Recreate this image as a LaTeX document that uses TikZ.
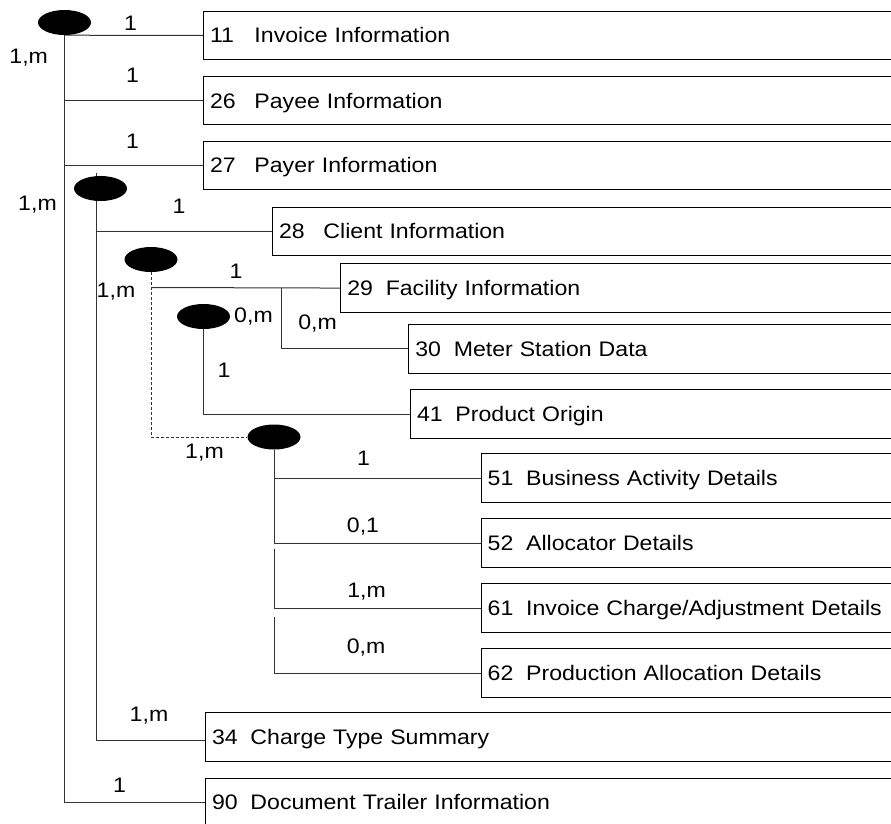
\documentclass[tikz,border=0pt]{standalone}
\usepackage{fontspec}
\setmainfont[FakeStretch=1.1]{Liberation Sans}
\usepackage{tikz}
\usetikzlibrary{shapes.geometric,backgrounds}

\newcommand{\segno}[2][38.5pt]{\makebox[#1][l]{#2}}

\begin{document}
\begin{tikzpicture}[x=1pt,y=-1pt,
    font=\fontsize{21}{25}\selectfont,
    rec/.style={draw,line width=1pt,anchor=north west,minimum height=48.5pt,
        text width=700pt,align=left,inner xsep=6.5pt,inner ysep=0pt,
        text height=15pt,text depth=0pt},
    hub/.style={ellipse,fill=black,minimum width=53pt,minimum height=25pt,inner sep=0pt},
    card/.style={inner sep=0pt,text height=15pt,text depth=0pt},
    link/.style={draw=black!80,line width=1pt},
    elbow/.style={to path={|- (\tikztotarget)}}]
    \useasboundingbox (0,0) rectangle (891,823);
    \clip (0,0) rectangle (891,823);
    %
    \node[hub]              (hInv) at (64.5,22.5)  {};
    \node[hub]              (hCli) at (100.5,188.5) {};
    \node[hub]              (hFac) at (151,259.5)  {};
    \node[hub]              (hPrd) at (203.5,316.5) {};
    \node[hub]              (hAct) at (274,437)    {};
    %
    \node[rec] (b11) at (203,10.7)   {\segno[44.5pt]{11}Invoice Information};
    \node[rec] (b26) at (203,75.8)   {\segno[44.5pt]{26}Payee Information};
    \node[rec] (b27) at (203,140.7)  {\segno[44.5pt]{27}Payer Information};
    \node[rec] (b28) at (272,206.7)  {\segno[44.5pt]{28}Client Information};
    \node[rec] (b29) at (340.3,263.3) {\segno{29}Facility Information};
    \node[rec] (b30) at (408.3,324)  {\segno{30}Meter Station Data};
    \node[rec] (b41) at (410,389.3)  {\segno{41}Product Origin};
    \node[rec] (b51) at (480.7,453.3) {\segno{51}Business Activity Details};
    \node[rec] (b52) at (480.7,518.3) {\segno{52}Allocator Details};
    \node[rec] (b61) at (480.7,583.3) {\segno{61}Invoice Charge/Adjustment Details};
    \node[rec] (b62) at (480.7,648.3) {\segno{62}Production Allocation Details};
    \node[rec] (b34) at (205,712.3)  {\segno{34}Charge Type Summary};
    \node[rec] (b90) at (205,777.7)  {\segno{90}Document Trailer Information};
    %
    \coordinate (t2)  at (96.3,173);
    \coordinate (j29) at (151,287.5);
    \coordinate (j30) at (281,287.5);
    \coordinate (g61) at (274,548.5);
    \coordinate (g62) at (274,617);
    %
    \node[card] (c11)  at (130.5,22.5)  {1};
    \node[card] (c26)  at (132.5,75)    {1};
    \node[card] (c27)  at (132.5,140.5) {1};
    \node[card] (cInv) at (28.7,56.3)   {1,m};
    \node[card] (cCli) at (37.5,203)    {1,m};
    \node[card] (c28)  at (179,206)     {1};
    \node[card] (cFac) at (116,289.5)   {1,m};
    \node[card] (c29)  at (236,270.5)   {1};
    \node[card] (cPrd) at (253.5,315)   {0,m};
    \node[card] (c30)  at (317.5,321.5) {0,m};
    \node[card] (c41)  at (224,370)     {1};
    \node[card] (cAct) at (204.5,451)   {1,m};
    \node[card] (c51)  at (363.5,458)   {1};
    \node[card] (c52)  at (363,524.5)   {0,1};
    \node[card] (c61)  at (366.5,589.5) {1,m};
    \node[card] (c62)  at (366,645.5)   {0,m};
    \node[card] (c34)  at (149,713.5)   {1,m};
    \node[card] (c90)  at (119.5,785)   {1};
    %
    \begin{scope}[on background layer]
    \path[link]
        (hInv.south) edge                (b11.west)
        (hInv.south) edge[elbow]         (b26.west)
        (hInv.south) edge[elbow]         (b27.west)
        (hInv.south) edge[elbow]         (b90.west)
        (t2)         edge[elbow]         (b28.west)
        (t2)         edge[elbow]         ([yshift=-3.5pt]b34.west)
        (j29)        edge                (b29.west)
        (j30)        edge[elbow]         (b30.west)
        (hPrd.south) edge[elbow]         (b41.west)
        (hAct.south) edge[elbow]         (b51.west)
        (hAct.south) edge[elbow]         (b52.west)
        (g61)        edge[elbow]         (b61.west)
        (g62)        edge[elbow]         (b62.west)
        (hFac.south) edge[elbow,line width=0.8pt,dash pattern=on 3pt off 2pt] (hAct.west)
    ; %-path-%
    \end{scope}
\end{tikzpicture}
\end{document}
